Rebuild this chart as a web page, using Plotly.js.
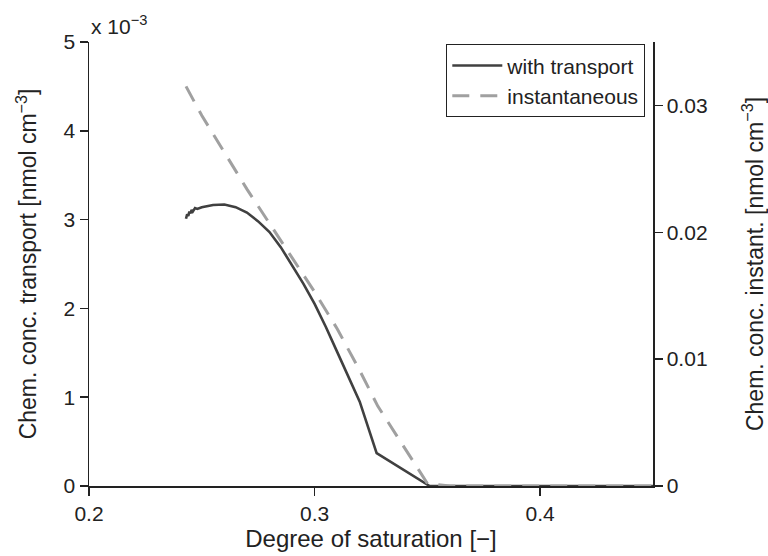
<!DOCTYPE html>
<html>
<head>
<meta charset="utf-8">
<script src="https://cdn.plot.ly/plotly-3.0.1.min.js"></script>
<style>html,body{margin:0;padding:0;background:#fff;}#chart{width:768px;height:556px;}</style>
</head>
<body>
<div id="chart"></div>
<script>
// Degree of saturation (x) and concentrations
const satTransport = [0.243, 0.2435, 0.244, 0.2445, 0.245, 0.2455, 0.246, 0.247, 0.248, 0.25, 0.255, 0.26, 0.265, 0.27, 0.275, 0.28, 0.285, 0.29, 0.295, 0.30, 0.305, 0.31, 0.315, 0.32, 0.3275, 0.351, 0.36, 0.40, 0.45];
// transport concentration in units of 1e-3 nmol cm^-3
const concTransport_e3 = [3.01, 3.06, 3.04, 3.09, 3.07, 3.11, 3.09, 3.13, 3.12, 3.14, 3.165, 3.17, 3.14, 3.08, 2.98, 2.86, 2.69, 2.49, 2.28, 2.05, 1.79, 1.51, 1.23, 0.95, 0.37, 0, 0, 0, 0];

const satInstant = [0.243, 0.25, 0.26, 0.27, 0.28, 0.29, 0.30, 0.31, 0.32, 0.328, 0.34, 0.35, 0.36, 0.40, 0.45];
const concInstant = [0.0315, 0.0292, 0.0263, 0.0234, 0.0207, 0.0180, 0.0153, 0.0124, 0.0091, 0.0063, 0.0030, 0.0002, 0, 0, 0];

const xTicks = [0.2, 0.3, 0.4];
const xTickLabels = ['0.2', '0.3', '0.4'];
const yLeftTicks = [0, 1, 2, 3, 4, 5];
const yLeftTickLabels = ['0', '1', '2', '3', '4', '5'];
const yRightTicks = [0, 0.01, 0.02, 0.03];
const yRightTickLabels = ['0', '0.01', '0.02', '0.03'];

const font = 'Liberation Sans, Arial, sans-serif';
const ink = '#222';
const tickSize = 21;
const titleSize = 23;

const traces = [
  {
    x: satTransport, y: concTransport_e3, type: 'scatter', mode: 'lines',
    name: 'with transport', yaxis: 'y',
    line: {color: '#404040', width: 2.6}
  },
  {
    x: satInstant, y: concInstant, type: 'scatter', mode: 'lines',
    name: 'instantaneous', yaxis: 'y2',
    line: {color: '#a0a0a0', width: 3, dash: '17px,11px'}
  }
];

const layout = {
  width: 768, height: 556,
  margin: {l: 89, r: 115, t: 42, b: 70, pad: 0},
  paper_bgcolor: '#fff', plot_bgcolor: '#fff',
  font: {family: font, size: tickSize, color: ink},
  showlegend: true,
  legend: {
    x: 0.986, y: 0.995, xanchor: 'right', yanchor: 'top',
    bgcolor: '#fff', bordercolor: ink, borderwidth: 1.2,
    font: {family: font, size: 21, color: ink},
    tracegroupgap: 0, itemwidth: 50
  },
  xaxis: {
    range: [0.2, 0.45], tickmode: 'array', tickvals: xTicks, ticktext: xTickLabels,
    showgrid: false, zeroline: false, showline: true, linecolor: ink, linewidth: 1.5,
    ticks: 'outside', ticklen: 8, tickwidth: 1.5, tickcolor: ink,
    tickfont: {family: font, size: tickSize, color: ink},
    title: {text: 'Degree of saturation [−]', font: {family: font, size: 24, color: ink}, standoff: 2}
  },
  yaxis: {
    range: [0, 5], tickmode: 'array', tickvals: yLeftTicks, ticktext: yLeftTickLabels,
    showgrid: false, zeroline: false, showline: true, linecolor: ink, linewidth: 1.5,
    ticks: 'outside', ticklen: 8, tickwidth: 1.5, tickcolor: ink,
    tickfont: {family: font, size: tickSize, color: ink},
    title: {text: 'Chem. conc. transport [nmol cm<sup>−3</sup>]', font: {family: font, size: titleSize, color: ink}, standoff: 20}
  },
  yaxis2: {
    overlaying: 'y', side: 'right', anchor: 'x',
    range: [0, 0.035], tickmode: 'array', tickvals: yRightTicks, ticktext: yRightTickLabels,
    showgrid: false, zeroline: false, showline: true, linecolor: ink, linewidth: 1.5,
    ticks: 'outside', ticklen: 8, tickwidth: 1.5, tickcolor: ink,
    tickfont: {family: font, size: tickSize, color: ink},
    title: {text: 'Chem. conc. instant. [nmol cm<sup>−3</sup>]', font: {family: font, size: titleSize, color: ink}, standoff: 40}
  },
  annotations: [
    {
      xref: 'paper', yref: 'paper', x: 0, y: 1, xanchor: 'left', yanchor: 'bottom',
      yshift: 2, showarrow: false,
      text: 'x 10<sup>−3</sup>', font: {family: font, size: 21, color: ink}
    }
  ]
};

Plotly.newPlot('chart', traces, layout, {staticPlot: true, displayModeBar: false});
</script>
</body>
</html>
